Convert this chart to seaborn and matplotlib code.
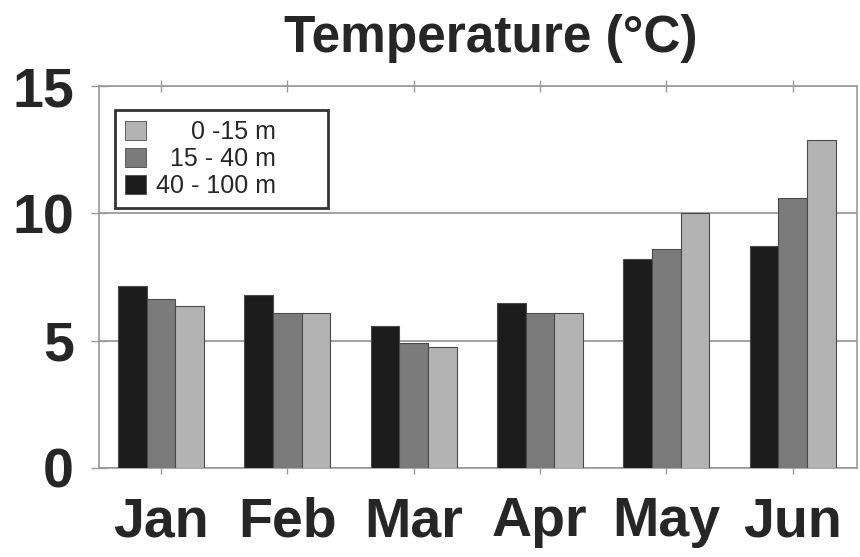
import matplotlib
matplotlib.use("Agg")
import matplotlib.pyplot as plt
import matplotlib.patches as mpatches
import seaborn as sns
import pandas as pd

months = ["Jan", "Feb", "Mar", "Apr", "May", "Jun"]
depths = ["40 - 100 m", "15 - 40 m", "0 -15 m"]
temp_deep = [7.15, 6.78, 5.58, 6.49, 8.21, 8.73]
temp_mid = [6.62, 6.10, 4.90, 6.10, 8.61, 10.59]
temp_surf = [6.37, 6.10, 4.76, 6.10, 10.0, 12.88]
colors = ["#1c1c1c", "#7b7b7b", "#b3b3b3"]

rows = []
for depth, vals in zip(depths, [temp_deep, temp_mid, temp_surf]):
    for m, v in zip(months, vals):
        rows.append({"month": m, "depth": depth, "temp": v})
df = pd.DataFrame(rows)

sns.set_style("white")
plt.rcParams["font.family"] = ["Liberation Sans", "DejaVu Sans"]

fig = plt.figure(figsize=(8.6, 5.57), dpi=100)
ax = fig.add_axes([0.1151, 0.1598, 0.8814, 0.6858])

sns.barplot(data=df, x="month", y="temp", hue="depth", order=months,
            hue_order=depths, palette=colors, width=0.68, gap=0,
            edgecolor="#4a4a4a", linewidth=0.8, ax=ax, legend=False, zorder=3)

ax.set_xlim(-0.49, 5.51)
ax.set_ylim(0, 15)
ax.set_yticks([0, 5, 10, 15])
ax.set_xlabel("")
ax.set_ylabel("")
ax.yaxis.grid(True, color="#9a9a9a", linewidth=1.3, zorder=0)
ax.set_axisbelow(True)

for s in ax.spines.values():
    s.set_color("#9a9a9a")
    s.set_linewidth(1.2)

ax.tick_params(axis="x", which="both", direction="inout", length=9, width=1,
               color="#9a9a9a", top=True, bottom=True, pad=16,
               labelsize=40)
ax.tick_params(axis="y", direction="inout", length=12, width=1,
               color="#9a9a9a", left=True, pad=12, labelsize=40)
for lab in ax.get_xticklabels() + ax.get_yticklabels():
    lab.set_fontweight("bold")

# legend listed top-down from surface to deep, labels padded to right-align
leg_labels = ["     0 -15 m      ", "  15 - 40 m      ", "40 - 100 m      "]
handles = [mpatches.Patch(facecolor=c, edgecolor="#4a4a4a", linewidth=0.6)
           for c in colors[::-1]]
leg = ax.legend(handles, leg_labels, loc="upper left",
                bbox_to_anchor=(0.021, 0.937), borderaxespad=0,
                fontsize=18, frameon=True, fancybox=False,
                handlelength=0.85, handleheight=0.75, handletextpad=0.4,
                labelspacing=0.12, borderpad=0.4)
leg.get_frame().set_edgecolor("black")
leg.get_frame().set_linewidth(2)
leg.set_zorder(5)

fig.text(0.571, 0.907, "Temperature (°C)", ha="center", va="baseline",
         fontsize=37, fontweight="bold")

fig.savefig("out.png", dpi=100)
